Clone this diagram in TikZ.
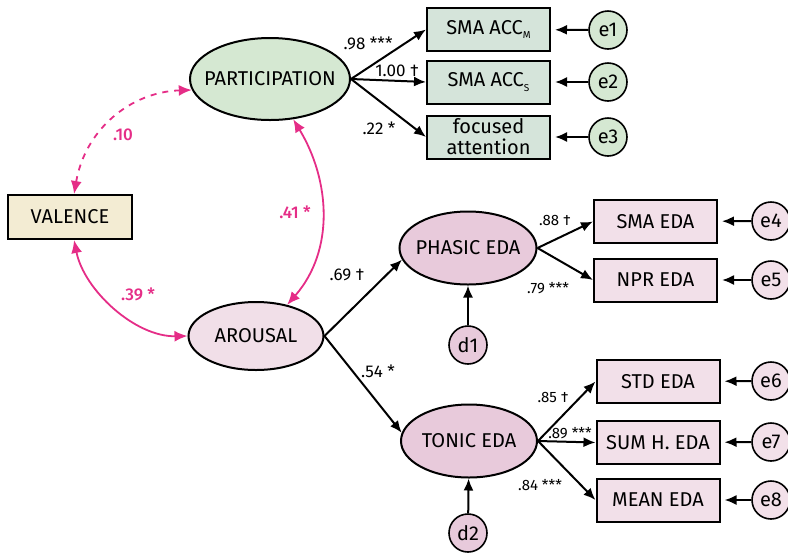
\documentclass[tikz,border=0pt]{standalone}
\usepackage{fontspec}
\setmainfont{Fira Sans}
\newfontfamily\medfont{Fira Sans Medium}
\usepackage{tikz}
\usetikzlibrary{shapes.geometric,arrows.meta}

\definecolor{partfill}{HTML}{D5E8D2}
\definecolor{accfill}{HTML}{D5E4DA}
\definecolor{valfill}{HTML}{F3ECD3}
\definecolor{aroufill}{HTML}{F1DFE8}
\definecolor{edafill}{HTML}{E8CADB}
\definecolor{edabox}{HTML}{F2E0E9}
\definecolor{covpink}{HTML}{E52D87}

\newcommand\ctext[1]{\makebox[0pt]{#1}}
\newcommand\lowsub[1]{\raisebox{-2.2pt}{\fontsize{5}{5}\selectfont #1}}

\begin{document}
\begin{tikzpicture}[x=0.5pt,y=-0.5pt,
  every node/.style={font=\fontsize{10}{10.5}\selectfont},
  latent/.style={ellipse,draw,line width=1pt,inner sep=0pt},
  observed/.style={rectangle,draw,line width=1pt,minimum width=61.5pt,minimum height=21.5pt,inner sep=0pt,align=center},
  err/.style={circle,draw,line width=0.8pt,minimum size=19pt,inner sep=0pt},
  arr/.style={-{Latex[length=6pt,width=5pt]},line width=1pt},
  cov/.style={{Latex[length=6.5pt,width=5.5pt]}-{Latex[length=6.5pt,width=5.5pt]},line width=0.9pt,draw=covpink},
  coef/.style={font=\fontsize{8.5}{9}\selectfont},
  scoef/.style={font=\fontsize{7.5}{8}\selectfont},
  pcoef/.style={font=\medfont\fontsize{8.5}{9}\selectfont,text=covpink}]
\useasboundingbox (0,0) rectangle (788,553);

% latent variables
\node[latent,fill=partfill,minimum width=80pt,minimum height=41pt] (part) at (270,79) {\ctext{PARTICIPATION}};
\node[latent,fill=aroufill,minimum width=67.5pt,minimum height=34pt] (arou) at (256,336) {\ctext{AROUSAL}};
\node[latent,fill=edafill,minimum width=68.5pt,minimum height=36.5pt] (phas) at (468,248) {\ctext{PHASIC EDA}};
\node[latent,fill=edafill,minimum width=68pt,minimum height=36.5pt] (tonic) at (469,441) {\ctext{TONIC EDA}};
\node[observed,fill=valfill,minimum width=62pt,minimum height=22pt] (val) at (70,217) {VALENCE};

% indicators
\node[observed,fill=accfill] (accm) at (488.5,29.5) {SMA ACC\lowsub{M}};
\node[observed,fill=accfill] (accs) at (488.5,82) {SMA ACC\lowsub{S}};
\node[observed,fill=accfill] (focus) at (488.5,137) {focused\\attention};
\node[observed,fill=edabox] (sma) at (655.5,221.5) {SMA EDA};
\node[observed,fill=edabox] (npr) at (655.5,280) {NPR EDA};
\node[observed,fill=edabox] (std) at (658,381.5) {STD EDA};
\node[observed,fill=edabox] (sum) at (658,442.5) {SUM H. EDA};
\node[observed,fill=edabox] (mean) at (658,500) {MEAN EDA};

% errors
\foreach \n/\y/\b in {1/30/accm,2/82/accs,3/137/focus}{
  \node[err,fill=partfill] (e\n) at (608,\y) {e\n};
  \draw[arr,shorten >=2pt] (e\n) -- (\b);
}
\foreach \n/\y/\b in {4/221/sma,5/280/npr,6/381/std,7/442/sum,8/500/mean}{
  \node[err,fill=edabox] (e\n) at (771,\y) {e\n};
  \draw[arr,shorten >=2pt] (e\n) -- (\b);
}
\node[err,fill=edafill] (d1) at (468,345) {d1};
\node[err,fill=edafill] (d2) at (468,533) {d2};
\draw[arr] (d1) -- (phas);
\draw[arr] (d2) -- (tonic);

% paths
\foreach \b in {accm,accs,focus}
  \draw[arr] (part.east) -- (\b.west);
\draw[arr] (arou.east) -- (phas.190);
\draw[arr] (arou.east) -- (tonic.173);
\foreach \b in {sma,npr}
  \draw[arr] (phas.east) -- (\b.west);
\foreach \b in {std,sum,mean}
  \draw[arr] (tonic.east) -- (\b.west);

% covariances
\draw[cov,dashed] (val.80) .. controls (85,130) and (130,92) .. (part.188);
\draw[cov] (part.-60) .. controls (330,180) and (335,250) .. (arou.45);
\draw[cov] (val.-80) .. controls (84,290) and (135,337) .. (arou.west);

% coefficients
\foreach \x/\y/\t/\m in {368/43/.98 ***/c1, 397/71/1.00 †/c2, 379/128/.22 */c3,
    347/275/.69 †/c4, 378/371/.54 */c5}
  \node[coef] (\m) at (\x,\y) {\t};
\foreach \x/\y/\t/\m in {555/220/.88 †/c6, 548/288/.79 ***/c7,
    553/397/.85 †/c8, 570/433/.89 ***/c9, 540/485/.84 ***/c10}
  \node[scoef] (\m) at (\x,\y) {\t};
\node[pcoef] (r1) at (123,135) {.10};
\node[pcoef] (r2) at (295,212) {.41 *};
\node[pcoef] (r3) at (138,294) {.39 *};
\end{tikzpicture}
\end{document}
